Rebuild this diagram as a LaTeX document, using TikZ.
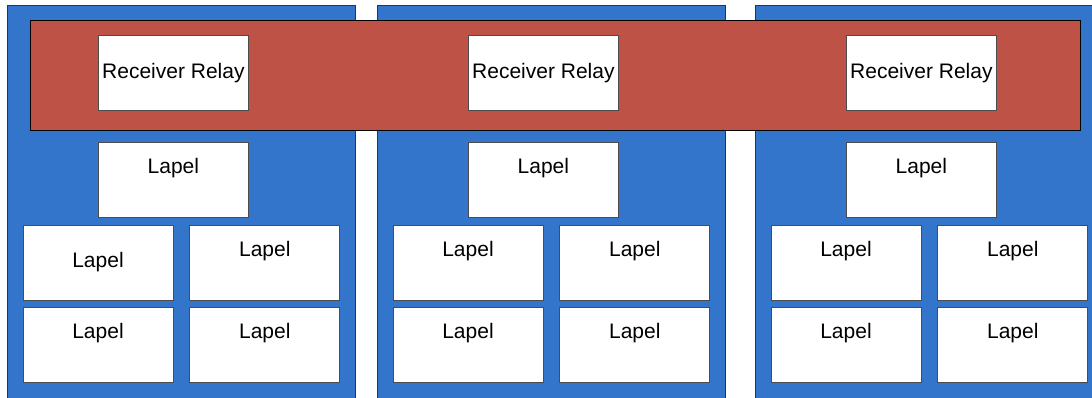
\documentclass[tikz,border=0pt]{standalone}
\usepackage{fontspec}
\setmainfont{Liberation Sans}
\usetikzlibrary{positioning}
\definecolor{panelblue}{RGB}{52,117,204}
\definecolor{relayred}{RGB}{191,82,70}

\begin{document}
\begin{tikzpicture}[x=1pt,y=-1pt,node distance=7pt and 16pt,font=\fontsize{21}{25}\selectfont]
  \tikzstyle{panel}=[draw=black!80,fill=panelblue,line width=1pt,anchor=north west,minimum width=348pt,minimum height=420pt,inner sep=0pt]
  \tikzstyle{band}=[draw=black,fill=relayred,line width=1pt,anchor=north west,minimum width=1050pt,minimum height=110pt,inner sep=0pt]
  \tikzstyle{box}=[draw=black!70,fill=white,line width=0.8pt,minimum width=150pt,minimum height=75pt,inner sep=0pt]
  \tikzstyle{toplab}=[text height=31pt,text depth=44pt]
  \tikzstyle{midlab}=[]

  \clip (0,0) rectangle (1092,397);
  \foreach \i/\dx in {1/0,2/370,3/748}
    \node[panel] (panel\i) at (7+\dx,5) {};
  \node[band] (band) at (30,20) {};

  \foreach \i/\dx/\lab in {1/0/midlab,2/370/toplab,3/748/toplab} {
    \node[box,anchor=north west] (relay\i) at (98+\dx,35) {Receiver Relay};
    \node[box,toplab,below=31pt of relay\i] (top\i) {Lapel};
    \node[box,\lab,below=7pt of top\i.south west] (a\i) {Lapel};
    \node[box,toplab,right=16pt of a\i] (b\i) {Lapel};
    \node[box,toplab,below=7pt of a\i] (c\i) {Lapel};
    \node[box,toplab,below=7pt of b\i] (d\i) {Lapel};
  }
\end{tikzpicture}
\end{document}
